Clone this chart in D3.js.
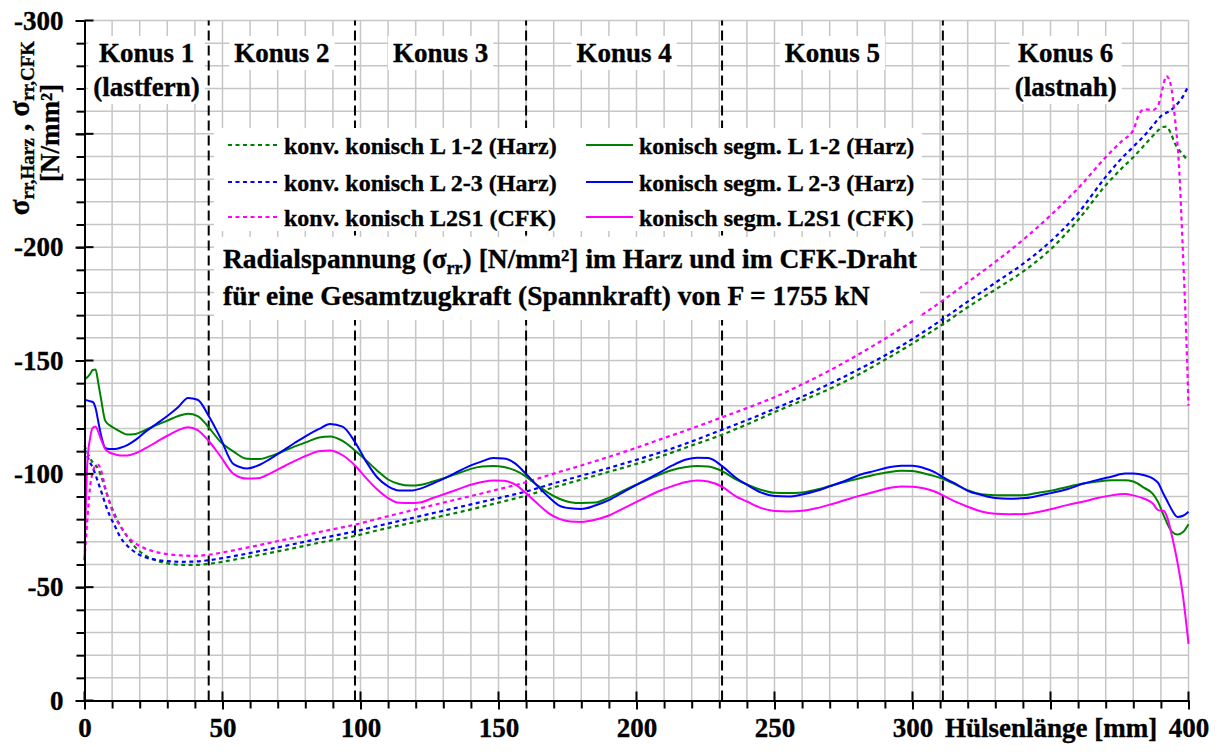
<!DOCTYPE html>
<html>
<head>
<meta charset="utf-8">
<script src="https://cdn.jsdelivr.net/npm/d3@7"></script>
<style>
  html, body { margin: 0; padding: 0; background: #fff; }
  svg { display: block; font-family: "Liberation Serif", "Times New Roman", serif; font-weight: bold; }
  svg text { stroke: #000; stroke-width: 0.35px; }
</style>
</head>
<body>
<svg id="chart" width="1222" height="756"></svg>
<script>
// ---- Data -----------------------------------------------------------------
// Sleeve length positions [mm] for the conventional conical sleeve (dotted curves)
const posKonv = [0, 0.8, 2, 3, 4, 5, 6, 7.5, 9, 11, 13, 15.5, 18.5, 22, 26, 30, 35, 40, 45, 55,
  65, 75, 85, 98, 107, 120, 130, 140, 150, 160, 170, 180, 190, 200, 210, 220, 230, 240, 250, 260,
  270, 280, 290, 300, 311, 320, 330, 340, 350, 360, 370, 376, 380, 382, 384, 387, 389, 390.5, 392, 393.5,
  395, 396.5, 398, 399.3, 400];

// Radial stress [N/mm²], conventional conical, layer 1-2 (resin)
const konvL12 = [-112.5, -110, -107, -105, -103.8, -102, -99, -93.5, -88, -82, -77, -72.3, -67.5, -64, -61.8, -60.5, -59.9, -59.8, -60.3, -62.3,
  -64.6, -67, -69.6, -72.6, -75.3, -78.8, -81.5, -84.3, -87.3, -90.4, -94, -97.5, -100.9, -104.4, -108.2, -112.5, -116.8, -121.8, -127.2, -132.3,
  -137.5, -143.5, -150.3, -157.5, -166, -173.5, -181.3, -189.2, -199, -212, -227.3, -235, -239.7, -242.3, -245, -249, -251.5, -253, -253.2, -250.5,
  -246, -243, -240.8, -239, -238.4];

// conventional conical, layer 2-3 (resin)
const konvL23 = [-111, -108.5, -105, -102.8, -99.5, -96, -92.5, -86.8, -82, -77, -72, -68.3, -65.3, -63.2, -62, -61.5, -61.2, -61.3, -61.9, -63.9,
  -66.3, -68.8, -71.4, -74.6, -77.2, -80.9, -83.7, -86.5, -89.3, -92.2, -95.8, -99.2, -102.6, -106.2, -110, -114.3, -119, -123.7, -128.7, -134,
  -139.7, -145.8, -152.2, -159.5, -168.3, -176, -184.3, -192.6, -202.5, -215, -231, -239.5, -244.3, -246.8, -249.2, -253.5, -256.5, -258.3, -259.3, -260.3,
  -262, -264, -266.5, -269.5, -271];

// conventional conical, wire L2S1 (CFRP)
const konvL2S1 = [-62, -76, -94, -101, -103.5, -104, -101.5, -94, -87.5, -81, -77, -72.5, -69.3, -67, -65.5, -64.6, -64, -63.8, -64.3, -66.5,
  -69, -71.6, -74.3, -77.6, -80.4, -84.3, -87.3, -90.2, -93.2, -96.3, -100.1, -103.7, -107.5, -111.5, -115.8, -120, -124.5, -129, -133.8, -139.5,
  -145.6, -152.4, -159.6, -167.3, -176.5, -184.5, -193.5, -203.2, -214, -226, -239.7, -247, -251.6, -258.5, -260.8, -260.5, -262.5, -269.5, -275.5, -272,
  -258, -237, -197, -157, -130];

// Sleeve length positions [mm] for the segmented conical sleeve (solid curves)
const posSegm = [0, 1, 2, 3, 4, 5, 6, 7.5, 9, 11, 13, 15.5, 18.5, 22, 26, 30, 34, 37.5, 41, 45,
  49, 54, 59, 63.5, 67, 71, 76, 80.5, 85, 89, 93.5, 98, 102, 106, 110, 114, 118, 122, 126, 131,
  136, 140, 144, 148, 152, 156, 160, 164, 168, 172, 176, 180, 185, 190, 196, 202, 208, 213, 218, 222,
  226, 231, 236, 240, 245, 250, 255, 260, 265, 270, 275, 281, 286, 291, 296, 300, 304, 308, 311, 316,
  320, 325, 330, 335, 341, 346, 350, 356, 362, 367, 372, 377, 380, 384, 387, 389, 391, 392.5, 394, 396,
  398, 400];

// segmented conical, layer 1-2 (resin)
const segmL12 = [-141.6, -142.6, -144, -145.8, -146, -140, -133, -123.5, -121.5, -120,
  -118.6, -117.3, -117.6, -119.3, -121.5, -123.5, -125.5, -126.5, -125.5, -120.5,
  -114.5, -109.8, -106.6, -106.5, -107.7, -109.5, -112, -114, -116, -116.5,
  -114.5, -110.3, -106, -101.5, -97.5, -95.5, -94.8, -95.2, -96.5, -98.4,
  -100.5, -102.2, -103.2, -103.5, -103, -101.5, -98.8, -95, -91.6, -89,
  -87.5, -87.1, -87.3, -89.5, -93, -96.3, -99.5, -101.7, -103, -103.5,
  -103.2, -101.2, -97.6, -95.3, -93, -91.6, -91.5, -91.8, -93, -94.6,
  -96.3, -98.1, -99.5, -100.7, -101.4, -101.3, -100.3, -99, -97.8, -95,
  -92.8, -91, -90.6, -90.5, -90.7, -91.8, -92.5, -94.2, -95.7, -96.6,
  -97.2, -97.2, -96.6, -93.8, -91.3, -87.5, -81.7, -77.5, -74.5, -73.2,
  -74.3, -77.8];

// segmented conical, layer 2-3 (resin)
const segmL23 = [-132.6, -132.4, -132, -131.7, -129, -123, -117, -111.5, -111, -111,
  -111.5, -112.7, -115, -118.5, -122, -125.5, -129.5, -133.5, -132.7, -125.5,
  -116.5, -104.3, -102.4, -104, -106.4, -109.5, -113.5, -116.9, -119.8, -122,
  -120.8, -114, -105.5, -98.5, -94.5, -92.7, -92.6, -93.6, -95.6, -98.3,
  -101.4, -103.7, -105.5, -107, -106.8, -104.6, -99.9, -94.8, -90, -86,
  -84.8, -84.5, -86, -88.4, -92.5, -96.5, -100.3, -103.7, -106.3, -107.1,
  -107, -103.4, -98.3, -95.2, -91.8, -90.2, -90, -90.9, -92.4, -94.5,
  -96.6, -99.6, -101.2, -102.8, -103.6, -103.6, -102.6, -100.8, -98.5, -95.4,
  -92.5, -90.7, -89.3, -89, -89.3, -90.4, -91.5, -93.2, -95.7, -97.3,
  -98.7, -100.1, -100.1, -99.4, -98, -96, -91, -87.5, -84, -81,
  -81.5, -83.3];

// segmented conical, wire L2S1 (CFRP)
const segmL2S1 = [-61.8, -104.5, -115.5, -120.3, -120.8, -118.5, -115.2, -111, -109.5, -108.6,
  -108.1, -108.1, -109.1, -111.2, -114, -116.8, -119.3, -120.6, -119.3, -114.5,
  -108.2, -100, -97.9, -98.2, -100, -102.5, -105.6, -108.1, -110, -110.3,
  -108.2, -103.7, -98.2, -93.2, -89.3, -87.2, -87.1, -87.5, -89.2, -91.3,
  -93.5, -95.2, -96.4, -97.1, -96.9, -95.3, -91.4, -87, -82.8, -80.1,
  -79, -78.8, -79.7, -81.6, -85.2, -88.8, -92.3, -94.6, -96.4, -97.1,
  -96.6, -94.3, -90.1, -87.8, -85, -83.6, -83.4, -83.7, -84.8, -86.4,
  -88.2, -90.4, -92, -93.6, -94.4, -94.3, -93.6, -92.2, -90.5, -87.5,
  -85.5, -83.4, -82.4, -82.2, -82.3, -83.3, -84.4, -86.2, -87.8, -89.3,
  -90.5, -91.1, -90.5, -89, -87, -84, -83.7, -80, -72.6, -61,
  -46, -25];

// Cone section boundaries along the sleeve [mm] and their labels
const konusBounds = [45, 98, 160, 231, 311];
const konusNames = ["Konus 1", "Konus 2", "Konus 3", "Konus 4", "Konus 5", "Konus 6"];
const konusNotes = ["(lastfern)", "", "", "", "", "(lastnah)"];

// Axis ticks (-250 carries a tick but no label; 350 is labelled with the axis title)
const xTickValues = [0, 50, 100, 150, 200, 250, 300, 350, 400];
const yTickValues = [0, -50, -100, -150, -200, -250, -300];
const yTickLabels = ["0", "-50", "-100", "-150", "-200", "", "-300"];
const xAxisTitle = "Hülsenlänge [mm]";

// Series definitions (legend order)
const seriesNames = [
  "konv. konisch L 1-2 (Harz)", "konv. konisch L 2-3 (Harz)", "konv. konisch L2S1 (CFK)",
  "konisch segm. L 1-2 (Harz)", "konisch segm. L 2-3 (Harz)", "konisch segm. L2S1 (CFK)"
];
const seriesColors = ["#008000", "#0000ff", "#ff00ff", "#008000", "#0000ff", "#ff00ff"];

// ---- Chart ----------------------------------------------------------------
const svg = d3.select("#chart");
const x = d3.scaleLinear().domain([0, 400]).range([84.5, 1188.5]);
const y = d3.scaleLinear().domain([0, -300]).range([700.5, 20.5]);

const series = [
  { name: seriesNames[0], color: seriesColors[0], dashed: true,  pts: d3.zip(posKonv, konvL12) },
  { name: seriesNames[1], color: seriesColors[1], dashed: true,  pts: d3.zip(posKonv, konvL23) },
  { name: seriesNames[2], color: seriesColors[2], dashed: true,  pts: d3.zip(posKonv, konvL2S1) },
  { name: seriesNames[3], color: seriesColors[3], dashed: false, pts: d3.zip(posSegm, segmL12) },
  { name: seriesNames[4], color: seriesColors[4], dashed: false, pts: d3.zip(posSegm, segmL23) },
  { name: seriesNames[5], color: seriesColors[5], dashed: false, pts: d3.zip(posSegm, segmL2S1) }
];

// Grid every 10 units
const grid = svg.append("g").attr("stroke", "#c6c6c6").attr("stroke-width", 1.5);
grid.selectAll("line.v").data(d3.range(10, 401, 10)).join("line").attr("class", "v")
  .attr("x1", d => x(d)).attr("x2", d => x(d)).attr("y1", y(0)).attr("y2", y(-300));
grid.selectAll("line.h").data(d3.range(-10, -301, -10)).join("line").attr("class", "h")
  .attr("x1", x(0)).attr("x2", x(400)).attr("y1", d => y(d)).attr("y2", d => y(d));

// Cone boundaries
svg.append("g").selectAll("line").data(konusBounds).join("line")
  .attr("x1", d => x(d)).attr("x2", d => x(d)).attr("y1", y(0)).attr("y2", y(-300))
  .attr("stroke", "#000").attr("stroke-width", 2).attr("stroke-dasharray", "10,5");

// Curves
const line = d3.line().x(d => x(d[0])).y(d => y(d[1])).curve(d3.curveMonotoneX);
svg.append("g").selectAll("path").data(series).join("path")
  .attr("d", d => line(d.pts))
  .attr("fill", "none")
  .attr("stroke", d => d.color)
  .attr("stroke-width", d => d.dashed ? 2.2 : 2)
  .attr("stroke-dasharray", d => d.dashed ? "4,3.5" : null);

// Axes
const font = 27;
const yMinor = svg.append("g").attr("transform", `translate(${x(0)},0)`)
  .call(d3.axisLeft(y).tickValues(d3.range(0, -301, -10)).tickSize(8).tickSizeOuter(0).tickFormat(""));
yMinor.select(".domain").remove();
const yAxis = svg.append("g").attr("transform", `translate(${x(0)},0)`)
  .call(d3.axisLeft(y).tickValues(yTickValues).tickSize(9).tickSizeOuter(0).tickPadding(12)
    .tickFormat((d, i) => yTickLabels[i]));
const xMinor = svg.append("g").attr("transform", `translate(0,${y(0)})`)
  .call(d3.axisBottom(x).tickValues(d3.range(0, 401, 10)).tickSize(8).tickSizeOuter(0).tickFormat(""));
xMinor.select(".domain").remove();
const xAxis = svg.append("g").attr("transform", `translate(0,${y(0)})`)
  .call(d3.axisBottom(x).tickValues(xTickValues).tickSize(9).tickSizeOuter(0).tickPadding(8)
    .tickFormat(d => d === 350 ? xAxisTitle : String(d)));
[yMinor, yAxis, xMinor, xAxis].forEach(g => {
  g.selectAll("line").attr("stroke", "#000").attr("stroke-width", 2);
  g.selectAll(".domain").attr("stroke", "#000").attr("stroke-width", 2);
  g.selectAll("text").attr("font-size", font).attr("font-family", null).attr("fill", "#000");
  g.attr("font-family", null).attr("font-size", null);
});
// inner half of the major ticks
svg.append("g").selectAll("line").data(yTickValues).join("line")
  .attr("x1", x(0)).attr("x2", x(0) + 9).attr("y1", d => y(d)).attr("y2", d => y(d))
  .attr("stroke", "#000").attr("stroke-width", 2);
svg.append("g").selectAll("line").data(xTickValues).join("line")
  .attr("x1", d => x(d)).attr("x2", d => x(d)).attr("y1", y(0)).attr("y2", y(0) - 9)
  .attr("stroke", "#000").attr("stroke-width", 2);

// Cone labels with white background
const edges = [0, ...konusBounds, 400];
const labelG = svg.append("g");
konusNames.forEach((name, i) => {
  const cx = x((edges[i] + edges[i + 1]) / 2);
  const g = labelG.append("g");
  const t = g.append("text").attr("text-anchor", "middle").attr("font-size", font);
  t.append("tspan").attr("x", cx).attr("y", 62).text(name);
  if (konusNotes[i]) t.append("tspan").attr("x", cx).attr("y", 96).text(konusNotes[i]);
  const b = t.node().getBBox();
  g.insert("rect", "text").attr("x", b.x - 5).attr("y", b.y - 2)
    .attr("width", b.width + 10).attr("height", b.height + 4).attr("fill", "#fff");
});

// Legend box
svg.append("rect").attr("x", 214).attr("y", 128).attr("width", 708).attr("height", 103).attr("fill", "#fff");
const legCols = [228, 586];
const legRows = [145, 182, 217];
series.forEach((s, i) => {
  const col = s.dashed ? 0 : 1;
  const row = i % 3;
  const lx = legCols[col], ly = legRows[row];
  svg.append("line").attr("x1", lx).attr("x2", lx + (col === 0 ? 52 : 47)).attr("y1", ly).attr("y2", ly)
    .attr("stroke", s.color).attr("stroke-width", s.dashed ? 2.2 : 2)
    .attr("stroke-dasharray", s.dashed ? "4,3.5" : null);
  svg.append("text").attr("x", lx + (col === 0 ? 56 : 53)).attr("y", ly + 8.5)
    .attr("font-size", 24).text(s.name);
});

// Title box
svg.append("rect").attr("x", 214).attr("y", 237).attr("width", 706).attr("height", 83).attr("fill", "#fff");
const title1 = svg.append("text").attr("x", 223).attr("y", 268).attr("font-size", 27.5);
title1.append("tspan").text("Radialspannung (σ");
title1.append("tspan").attr("font-size", 18).attr("dy", 6).text("rr");
title1.append("tspan").attr("dy", -6).text(") [N/mm²] im Harz und im CFK-Draht");
svg.append("text").attr("x", 223).attr("y", 305).attr("font-size", 27.5)
  .text("für eine Gesamtzugkraft (Spannkraft) von F = 1755 kN");

// Y axis title (rotated)
const yt1 = svg.append("text").attr("transform", "translate(29,128) rotate(-90)")
  .attr("text-anchor", "middle").attr("font-size", 29);
yt1.append("tspan").text("σ");
yt1.append("tspan").attr("font-size", 19).attr("dy", 5).text("rr,Harz");
yt1.append("tspan").attr("dy", -5).text(" , σ");
yt1.append("tspan").attr("font-size", 19).attr("dy", 5).text("rr,CFK");
svg.append("text").attr("transform", "translate(59,133) rotate(-90)")
  .attr("text-anchor", "middle").attr("font-size", 27).text("[N/mm²]");
</script>
</body>
</html>
